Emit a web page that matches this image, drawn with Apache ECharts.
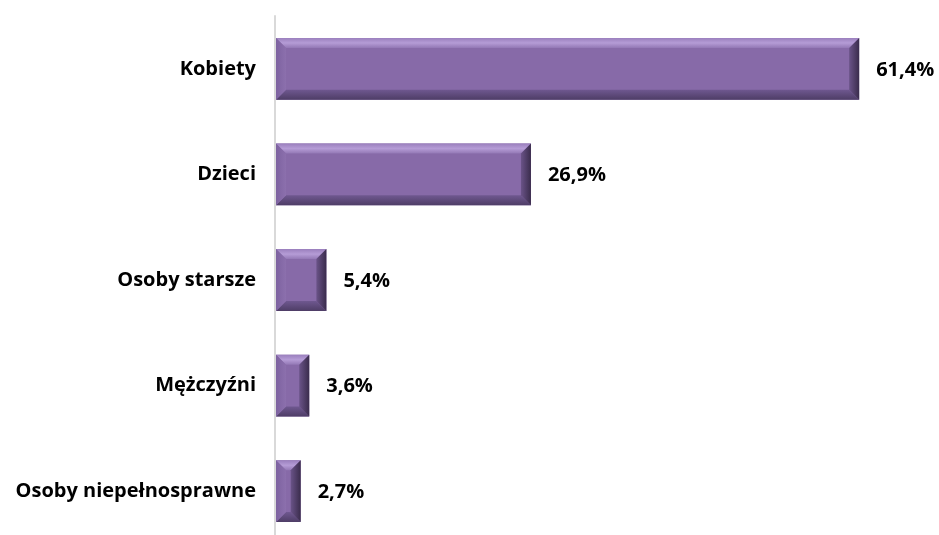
<!DOCTYPE html>
<html><head><meta charset="utf-8">
<script src="https://cdn.jsdelivr.net/npm/echarts@6/dist/echarts.min.js"></script>
<style>html,body{margin:0;padding:0;background:#fff}#c{width:939px;height:535px}</style>
</head><body><div id="c"></div>
<script>
const categories = ["Kobiety","Dzieci","Osoby starsze","Mężczyźni","Osoby niepełnosprawne"];
const values = [61.4, 26.9, 5.4, 3.6, 2.7];
const valueLabels = ["61,4%","26,9%","5,4%","3,6%","2,7%"];

const FONT = "Open Sans";
const chart = echarts.init(document.getElementById('c'));
function renderItem(params, api){
  const v = api.value(0), ci = api.value(1);
  const p0 = api.coord([0, ci]);
  const p1 = api.coord([v, ci]);
  const band = api.size([0,1])[1];
  const h = band*0.585;
  const x0 = p0[0]+1, x1 = p1[0], y0 = p0[1]-h/2, y1 = p0[1]+h/2;
  const b = 10;
  return {type:'group', children:[
    {type:'rect', shape:{x:x0,y:y0,width:x1-x0,height:y1-y0}, style:{fill:'#876aa8'}},
    {type:'polygon', shape:{points:[[x0,y0],[x1,y0],[x1-b,y0+b],[x0+b,y0+b]]},
      style:{fill:new echarts.graphic.LinearGradient(0,0,0,1,[{offset:0,color:'#9a7fbd'},{offset:0.5,color:'#b59cd6'},{offset:1,color:'#9378b5'}])}},
    {type:'polygon', shape:{points:[[x0,y1],[x1,y1],[x1-b,y1-b],[x0+b,y1-b]]},
      style:{fill:new echarts.graphic.LinearGradient(0,0,0,1,[{offset:0,color:'#6f5890'},{offset:1,color:'#4e3d66'}])}},
    {type:'polygon', shape:{points:[[x0,y0],[x0+b,y0+b],[x0+b,y1-b],[x0,y1]]},
      style:{fill:new echarts.graphic.LinearGradient(0,0,1,0,[{offset:0,color:'#7d62a0'},{offset:1,color:'#8c70ad'}])}},
    {type:'polygon', shape:{points:[[x1,y0],[x1-b,y0+b],[x1-b,y1-b],[x1,y1]]},
      style:{fill:new echarts.graphic.LinearGradient(0,0,1,0,[{offset:0,color:'#6a5388'},{offset:1,color:'#3a2c4c'}])}},
    {type:'text', style:{text:valueLabels[params.dataIndex], x:x1+17, y:p0[1]+1, verticalAlign:'middle', align:'left',
      fontFamily:FONT, fontWeight:'bold', fontSize:20, fill:'#000'}}
  ]};
}
chart.setOption({
  animation:false,
  grid:{left:275, top:16, width:666, height:528, containLabel:false, outerBoundsMode:'none'},
  xAxis:{type:'value', min:0, max:70, show:false},
  yAxis:{type:'category', data:categories, inverse:true,
    axisLine:{show:true, lineStyle:{color:'#d9d9d9', width:2}},
    axisTick:{show:false}, splitLine:{show:false},
    axisLabel:{margin:19, color:'#000', fontFamily:FONT, fontWeight:'bold', fontSize:20}},
  series:[{type:'custom', renderItem, encode:{x:0,y:1},
    data: values.map((v,i)=>[v,i])}]
});
</script></body></html>
